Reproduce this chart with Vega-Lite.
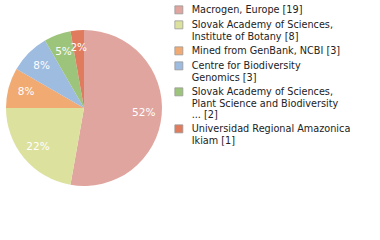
{
  "$schema": "https://vega.github.io/schema/vega-lite/v6.json",
  "width": 168,
  "height": 216,
  "padding": 0,
  "autosize": {"type": "pad"},
  "background": "white",
  "config": {"view": {"stroke": null}, "font": "DejaVu Sans"},
  "data": {
    "values": [
      {"source": "Macrogen, Europe [19]", "count": 19, "order": 1, "pct": "52%"},
      {"source": "Slovak Academy of Sciences,|Institute of Botany [8]", "count": 8, "order": 2, "pct": "22%"},
      {"source": "Mined from GenBank, NCBI [3]", "count": 3, "order": 3, "pct": "8%"},
      {"source": "Centre for Biodiversity|Genomics [3]", "count": 3, "order": 4, "pct": "8%"},
      {"source": "Slovak Academy of Sciences,|Plant Science and Biodiversity|... [2]", "count": 2, "order": 5, "pct": "5%"},
      {"source": "Universidad Regional Amazonica|Ikiam [1]", "count": 1, "order": 6, "pct": "2%"}
    ]
  },
  "encoding": {
    "theta": {"field": "count", "type": "quantitative", "stack": true},
    "order": {"field": "order", "type": "quantitative"}
  },
  "layer": [
    {
      "mark": {"type": "arc", "outerRadius": 78},
      "encoding": {
        "color": {
          "field": "source",
          "type": "nominal",
          "sort": null,
          "scale": {
            "domain": [
              "Macrogen, Europe [19]",
              "Slovak Academy of Sciences,|Institute of Botany [8]",
              "Mined from GenBank, NCBI [3]",
              "Centre for Biodiversity|Genomics [3]",
              "Slovak Academy of Sciences,|Plant Science and Biodiversity|... [2]",
              "Universidad Regional Amazonica|Ikiam [1]"
            ],
            "range": ["#e0a59e", "#dde19e", "#f0aa72", "#9ebbe0", "#9cc47a", "#e07b5e"]
          },
          "legend": {
            "title": null,
            "orient": "none",
            "legendX": 174,
            "legendY": 5,
            "symbolType": "square",
            "symbolSize": 64,
            "symbolStrokeColor": "#999999",
            "symbolStrokeWidth": 0.8,
            "labelFontSize": 9.7,
            "labelLineHeight": 12,
            "labelFont": "DejaVu Sans",
            "labelColor": "#222222",
            "labelExpr": "split(datum.label, '|')",
            "labelLimit": 300,
            "labelOffset": 8,
            "rowPadding": 3,
            "labelBaseline": "middle"
          }
        }
      }
    },
    {
      "mark": {"type": "text", "radius": 60, "fontSize": 10.5, "color": "white", "font": "DejaVu Sans"},
      "encoding": {"text": {"field": "pct", "type": "nominal"}}
    }
  ]
}
